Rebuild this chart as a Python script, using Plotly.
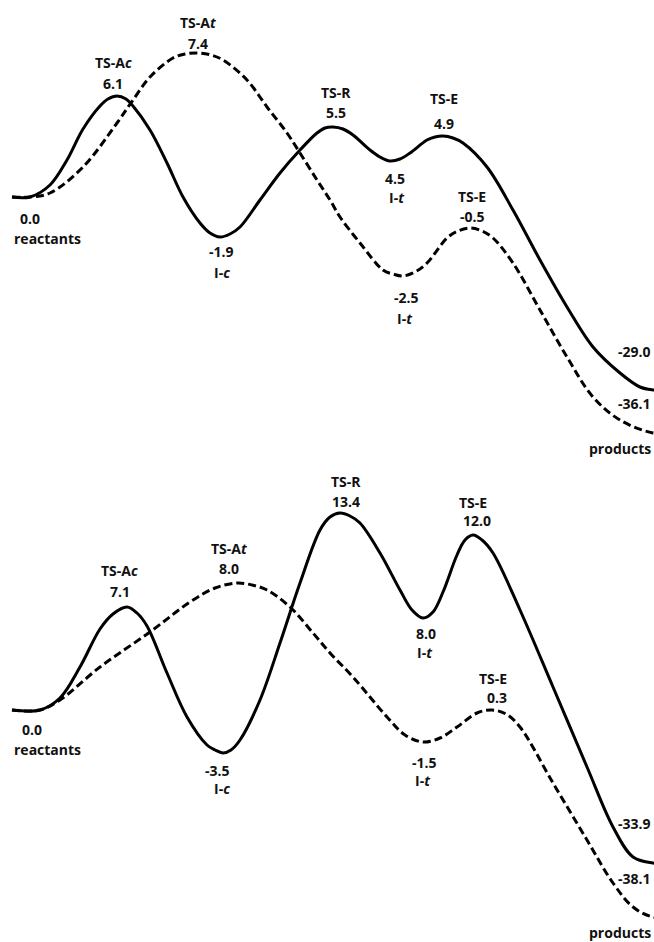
import plotly.graph_objects as go

# ---------------- data ----------------
# Schematic energy profiles: reaction coordinate vs drawn height above reactants
# (the original drawing is not to scale, so heights are drawn heights, not kcal/mol)

# Panel 1 (top)
top_solid_x = [12, 30, 50, 67, 83, 100, 108, 117, 126, 133, 150, 167, 183, 200, 210, 220,
               230, 240, 260, 280, 300, 317, 325, 333, 343, 353, 370, 380, 390, 400, 410,
               427, 435, 443, 453, 463, 487, 513, 540, 567, 593, 620, 640, 654, 680]
top_solid_h = [0, 0, 12, 37, 68, 91, 98, 101, 98, 91, 67, 34, 0, -26, -36, -40,
               -37, -30, -3, 24, 47, 64, 69, 70, 68, 62, 47, 40, 36, 38, 44,
               57, 60, 61, 59, 54, 30, -13, -63, -110, -150, -176, -190, -193, -194]
top_dash_x = [12, 30, 50, 83, 117, 133, 150, 173, 185, 198, 211, 223, 247, 267, 287, 300,
              317, 330, 340, 360, 383, 393, 403, 415, 427, 447, 458, 470, 482, 493, 513,
              540, 567, 593, 620, 653, 680]
top_dash_h = [0, 0, 4, 30, 74, 97, 120, 139, 143, 144, 142, 137, 117, 90, 64, 44,
              17, -3, -20, -46, -73, -77, -79, -75, -66, -41, -34, -31, -34, -41, -66,
              -113, -160, -200, -223, -236, -237]

# Panel 2 (bottom)
bot_solid_x = [12, 40, 60, 80, 100, 113, 127, 137, 147, 167, 187, 207, 215, 223, 231, 240,
               260, 280, 300, 320, 330, 340, 350, 360, 380, 400, 412, 423, 433, 443, 457,
               465, 473, 482, 493, 520, 553, 587, 613, 633, 653, 680]
bot_solid_h = [0, 0, 12, 43, 81, 96, 103, 97, 84, 37, -7, -35, -40, -43, -40, -30,
               10, 67, 127, 180, 193, 197, 194, 187, 157, 120, 100, 92, 98, 118, 155,
               170, 175, 170, 157, 100, 23, -57, -117, -147, -153, -154]
bot_dash_x = [12, 40, 60, 100, 150, 190, 215, 237, 252, 267, 290, 313, 330, 353, 387, 405,
              423, 440, 457, 477, 492, 506, 520, 553, 587, 613, 633, 653, 680]
bot_dash_h = [0, 0, 10, 43, 78, 108, 122, 127, 125, 120, 103, 77, 57, 33, -7, -25,
              -32, -28, -17, -3, 0, -4, -17, -73, -130, -173, -197, -207, -208]

# Labels (text lines) for each panel
top_labels = ["TS-A<i>t</i>", "7.4", "TS-A<i>c</i>", "6.1", "0.0", "reactants",
              "-1.9", "I-<i>c</i>", "TS-R", "5.5", "TS-E", "4.9", "4.5", "I-<i>t</i>",
              "TS-E", "-0.5", "-2.5", "I-<i>t</i>", "-29.0", "-36.1", "products"]
bot_labels = ["TS-A<i>c</i>", "7.1", "TS-A<i>t</i>", "8.0", "0.0", "reactants",
              "-3.5", "I-<i>c</i>", "TS-R", "13.4", "TS-E", "12.0", "8.0", "I-<i>t</i>",
              "TS-E", "0.3", "-1.5", "I-<i>t</i>", "-33.9", "-38.1", "products"]

# ---------------- label placement ----------------
top_lab_x = [198, 198, 113, 113, 30, 47, 221, 222, 336, 336, 444, 444, 395, 397,
             472, 472, 406, 405, 653, 653, 653]
top_lab_y = [175, 154, 135, 114, -21, -41, -54, -75, 105, 85, 99, 74, 19, 0,
             1, -19, -100, -121, -154, -206, -251]
bot_lab_x = [119, 120, 229, 229, 32, 47, 217, 222, 346, 346, 473, 477, 426, 425,
             493, 497, 424, 423, 653, 653, 653]
bot_lab_y = [140, 119, 162, 142, -19, -39, -60, -78, 229, 209, 208, 190, 77, 58,
             32, 13, -52, -70, -113, -168, -222]
right_aligned = {"-29.0", "-36.1", "products", "-33.9", "-38.1"}

LINE_W = 3
SMOOTH = 1.0
FONT = dict(family="Open Sans, Arial, sans-serif", size=14, color="#111111", weight="bold")

fig = go.Figure()
fig.add_trace(go.Scatter(x=top_solid_x, y=top_solid_h, mode="lines",
                         line=dict(color="black", width=LINE_W, shape="spline", smoothing=SMOOTH),
                         xaxis="x", yaxis="y", hoverinfo="skip"))
fig.add_trace(go.Scatter(x=top_dash_x, y=top_dash_h, mode="lines",
                         line=dict(color="black", width=LINE_W, dash="8px,4px", shape="spline", smoothing=SMOOTH),
                         xaxis="x", yaxis="y", hoverinfo="skip"))
fig.add_trace(go.Scatter(x=bot_solid_x, y=bot_solid_h, mode="lines",
                         line=dict(color="black", width=LINE_W, shape="spline", smoothing=SMOOTH),
                         xaxis="x2", yaxis="y2", hoverinfo="skip"))
fig.add_trace(go.Scatter(x=bot_dash_x, y=bot_dash_h, mode="lines",
                         line=dict(color="black", width=LINE_W, dash="8px,4px", shape="spline", smoothing=SMOOTH),
                         xaxis="x2", yaxis="y2", hoverinfo="skip"))

annotations = []
for txt, x, y in zip(top_labels, top_lab_x, top_lab_y):
    annotations.append(dict(text=txt, x=x, y=y, xref="x", yref="y", showarrow=False,
                            xanchor="right" if txt in right_aligned else "center",
                            yanchor="middle", font=FONT))
for txt, x, y in zip(bot_labels, bot_lab_x, bot_lab_y):
    annotations.append(dict(text=txt, x=x, y=y, xref="x2", yref="y2", showarrow=False,
                            xanchor="right" if txt in right_aligned else "center",
                            yanchor="middle", font=FONT))

hidden = dict(visible=False, showgrid=False, zeroline=False, fixedrange=True)
fig.update_layout(
    width=654, height=942,
    margin=dict(l=0, r=0, t=0, b=0),
    paper_bgcolor="white", plot_bgcolor="white",
    showlegend=False,
    xaxis=dict(range=[0, 654], domain=[0, 1], anchor="y", **hidden),
    yaxis=dict(range=[-274, 197], domain=[0.5, 1], anchor="x", **hidden),
    xaxis2=dict(range=[0, 654], domain=[0, 1], anchor="y2", **hidden),
    yaxis2=dict(range=[-232, 239], domain=[0, 0.5], anchor="x2", **hidden),
    annotations=annotations,
)

fig.write_html(
    "out.html",
    config={"displayModeBar": False},
    post_script="document.body.style.margin='0';document.body.style.overflow='hidden';",
)
